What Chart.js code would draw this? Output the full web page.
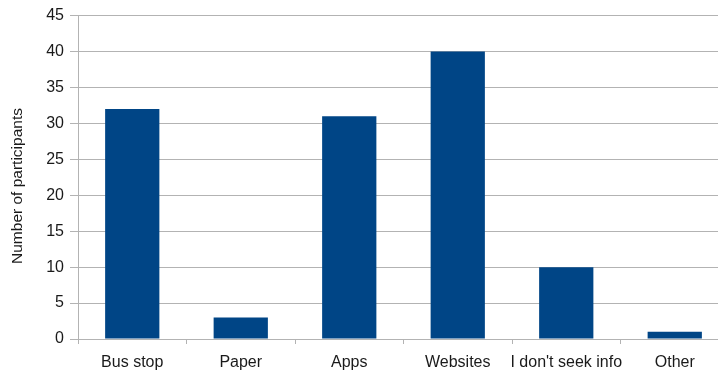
<!DOCTYPE html>
<html lang="en">
<head>
  <meta charset="UTF-8">
  <title>Information sources</title>
  <script src="https://cdn.jsdelivr.net/npm/chart.js"></script>
  <style>
    html, body {
      margin: 0;
      padding: 0;
      overflow: hidden;
      background: #fff;
    }
    .chart {
      width: 729px;
      height: 372px;
    }
  </style>
</head>
<body>
  <div class="chart">
    <canvas id="sourceChart"></canvas>
  </div>

  <script>
    const categories = ['Bus stop', 'Paper', 'Apps', 'Websites', "I don't seek info", 'Other'];
    const participants = [32, 3, 31, 40, 10, 1];
    const yTicks = [0, 5, 10, 15, 20, 25, 30, 35, 40, 45];
    const yTitle = 'Number of participants';

    const gridColor = '#b3b3b3';
    const textColor = '#1a1a1a';
    const family = 'Liberation Sans, Arial, sans-serif';

    // axis title centred on the full canvas height, not just the plot area
    const yTitlePlugin = {
      id: 'yTitle',
      afterDraw(chart) {
        const ctx = chart.ctx;
        ctx.save();
        ctx.translate(18, chart.height / 2);
        ctx.rotate(-Math.PI / 2);
        ctx.fillStyle = textColor;
        ctx.font = '15.5px ' + family;
        ctx.textAlign = 'center';
        ctx.textBaseline = 'middle';
        ctx.fillText(yTitle, 0, 0);
        ctx.restore();
      },
    };

    new Chart(document.getElementById('sourceChart').getContext('2d'), {
      type: 'bar',
      data: {
        labels: categories,
        datasets: [{
          label: yTitle,
          data: participants,
          backgroundColor: '#004586',
          borderWidth: 0,
          barPercentage: 0.5,
          categoryPercentage: 1,
        }],
      },
      options: {
        responsive: true,
        maintainAspectRatio: false,
        animation: false,
        layout: { padding: { top: 14, right: 0, left: 0, bottom: 0 } },
        plugins: {
          legend: { display: false },
          tooltip: { enabled: false },
        },
        scales: {
          x: {
            grid: {
              display: true,
              drawOnChartArea: false,
              offset: true,
              color: gridColor,
              tickLength: 5,
            },
            border: { color: gridColor },
            ticks: {
              color: textColor,
              font: { family: family, size: 16 },
              padding: 9,
              autoSkip: false,
              maxRotation: 0,
            },
            afterFit: (scale) => { scale.height = 33; },
          },
          y: {
            min: 0,
            max: 45,
            afterBuildTicks: (scale) => { scale.ticks = yTicks.map(v => ({ value: v })); },
            grid: { color: gridColor, tickLength: 8 },
            border: { color: gridColor },
            ticks: { color: textColor, font: { family: family, size: 16 }, padding: 6 },
            afterFit: (scale) => { scale.width = 78; },
          },
        },
      },
      plugins: [yTitlePlugin],
    });
  </script>
</body>
</html>
